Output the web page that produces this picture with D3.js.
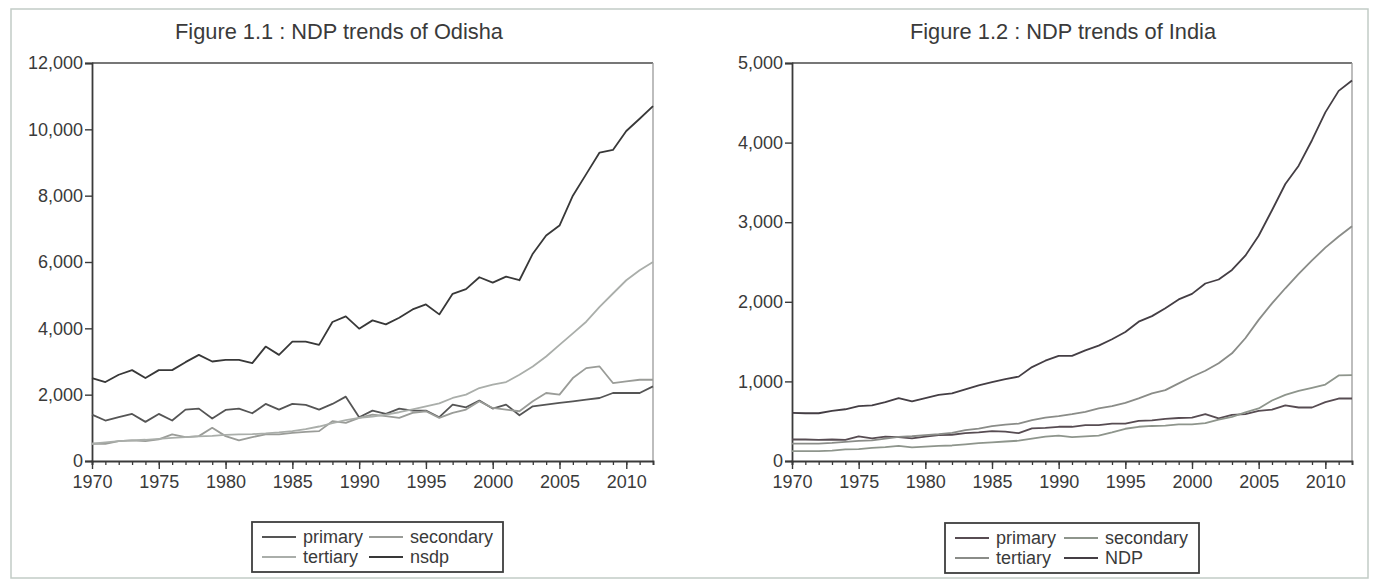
<!DOCTYPE html>
<html>
<head>
<meta charset="utf-8">
<script src="https://cdn.jsdelivr.net/npm/d3@7"></script>
<style>
  html, body { margin: 0; padding: 0; background: #ffffff; }
  svg { display: block; }
  text { font-family: "Liberation Sans", Arial, sans-serif; fill: #3a3a3a; }
</style>
</head>
<body>
<svg id="chart" width="1373" height="583"></svg>
<script>
// Years 1970 .. 2012
const years = [1970,1971,1972,1973,1974,1975,1976,1977,1978,1979,
               1980,1981,1982,1983,1984,1985,1986,1987,1988,1989,
               1990,1991,1992,1993,1994,1995,1996,1997,1998,1999,
               2000,2001,2002,2003,2004,2005,2006,2007,2008,2009,
               2010,2011,2012];
const yearTicks = [1970,1975,1980,1985,1990,1995,2000,2005,2010];

// Odisha net state domestic product by sector
const odishaPrimary = [1400,1220,1320,1420,1180,1420,1220,1550,1580,1280,
                       1540,1580,1440,1720,1550,1720,1690,1550,1720,1940,
                       1320,1520,1420,1580,1520,1520,1320,1700,1620,1820,
                       1580,1700,1380,1650,1700,1750,1800,1850,1900,2050,
                       2050,2050,2250];
const odishaSecondary = [520,520,600,620,600,650,800,720,750,1000,
                         750,620,720,800,800,850,880,900,1200,1150,
                         1300,1400,1350,1300,1450,1500,1300,1450,1550,1800,
                         1600,1550,1500,1800,2050,2000,2500,2800,2850,2350,
                         2400,2450,2450];
const odishaTertiary = [520,560,600,620,640,670,700,720,740,760,
                        790,800,810,830,860,900,960,1040,1140,1230,
                        1300,1340,1400,1470,1560,1650,1740,1900,2000,2200,
                        2300,2380,2600,2850,3150,3500,3850,4200,4650,5050,
                        5450,5750,6000];
const odishaNsdp = [2500,2380,2600,2740,2500,2740,2740,2980,3200,3000,
                    3050,3050,2950,3450,3200,3600,3600,3500,4190,4360,
                    3990,4240,4120,4320,4570,4720,4420,5040,5180,5540,
                    5380,5560,5450,6250,6800,7100,8000,8650,9300,9380,
                    9950,10320,10700];
const odishaTicks = [0,2000,4000,6000,8000,10000,12000];

// India net domestic product by sector
const indiaPrimary = [270,270,265,270,265,310,285,305,300,285,
                      305,325,330,350,360,375,370,350,410,415,
                      430,430,450,450,470,470,505,510,530,540,
                      545,590,535,580,590,630,645,700,672,672,
                      740,785,785];
const indiaSecondary = [125,125,125,130,145,150,165,175,190,170,
                        180,190,195,210,225,235,245,255,280,305,
                        320,300,310,320,360,405,430,440,445,460,
                        460,475,520,555,610,660,760,830,880,920,
                        960,1075,1080];
const indiaTertiary = [218,218,218,227,240,252,260,282,302,311,
                       324,336,353,387,408,437,458,470,513,546,
                       563,588,618,660,689,731,786,849,890,975,
                       1059,1134,1227,1353,1542,1773,1980,2170,2350,2520,
                       2680,2820,2950];
const indiaNdp = [605,600,600,630,650,690,700,740,790,750,
                  790,830,850,900,950,990,1030,1060,1180,1260,
                  1320,1320,1390,1450,1530,1620,1750,1820,1920,2030,
                  2100,2230,2280,2400,2580,2830,3150,3480,3710,4030,
                  4380,4650,4780];
const indiaTicks = [0,1000,2000,3000,4000,5000];

const odishaNames = ["primary","secondary","tertiary","nsdp"];
const indiaNames  = ["primary","secondary","tertiary","NDP"];

const fmt = d3.format(",");
const svg = d3.select("#chart");

// outer frame of the figure
svg.append("rect")
  .attr("x", 11).attr("y", 9).attr("width", 1357).attr("height", 569)
  .attr("fill", "none").attr("stroke", "#c2ccc6").attr("stroke-width", 1.5);

function panel(opts) {
  const { left, right, top, bottom, ymax, yticks, series, names, colors, title, titleX, legend } = opts;
  const g = svg.append("g");

  const x = d3.scaleLinear().domain([1970, 2012]).range([left, right]);
  const y = d3.scaleLinear().domain([0, ymax]).range([bottom, top]);

  // title
  g.append("text")
    .attr("x", titleX).attr("y", 39)
    .attr("text-anchor", "middle")
    .style("font-size", "21.8px")
    .text(title);

  // plot frame: top and right edges
  g.append("line").attr("x1", left).attr("x2", right).attr("y1", top).attr("y2", top)
    .attr("stroke", "#4a4a4a").attr("stroke-width", 1.6);
  g.append("line").attr("x1", right).attr("x2", right).attr("y1", top).attr("y2", bottom)
    .attr("stroke", "#9a9a9a").attr("stroke-width", 1.3);

  // y axis
  const yAxis = g.append("g")
    .attr("transform", `translate(${left},0)`)
    .call(d3.axisLeft(y).tickValues(yticks).tickFormat(fmt).tickSize(7).tickPadding(2));
  yAxis.select(".domain").attr("stroke", "#3a3a3a").attr("stroke-width", 1.8);
  yAxis.selectAll(".tick line").attr("stroke", "#3a3a3a").attr("stroke-width", 1.4);
  yAxis.selectAll(".tick text")
    .style("font-size", "18px").style("font-family", "Liberation Sans, Arial, sans-serif")
    .attr("fill", "#3e3e3e");

  // x axis: minor ticks every year, longer ticks with labels every five years
  const xMinor = g.append("g")
    .attr("transform", `translate(0,${bottom})`)
    .call(d3.axisBottom(x).tickValues(years).tickSize(4).tickFormat(""));
  xMinor.select(".domain").attr("stroke", "#3a3a3a").attr("stroke-width", 1.8);
  xMinor.selectAll(".tick line").attr("stroke", "#3a3a3a").attr("stroke-width", 1.3);

  const xMajor = g.append("g")
    .attr("transform", `translate(0,${bottom})`)
    .call(d3.axisBottom(x).tickValues(yearTicks).tickSize(8).tickPadding(6).tickFormat(d3.format("d")));
  xMajor.select(".domain").remove();
  xMajor.selectAll(".tick line").attr("stroke", "#3a3a3a").attr("stroke-width", 1.4);
  xMajor.selectAll(".tick text")
    .style("font-size", "18px").style("font-family", "Liberation Sans, Arial, sans-serif")
    .attr("fill", "#3e3e3e");

  // series lines
  const line = d3.line().x((d, i) => x(years[i])).y(d => y(d));
  series.forEach((s, k) => {
    g.append("path")
      .datum(s)
      .attr("fill", "none")
      .attr("stroke", colors[k])
      .attr("stroke-width", 1.8)
      .attr("stroke-linejoin", "round")
      .attr("d", line);
  });

  // legend box, two rows of two entries
  const lg = g.append("g");
  lg.append("rect")
    .attr("x", legend.x).attr("y", legend.y).attr("width", legend.w).attr("height", legend.h)
    .attr("fill", "#ffffff").attr("stroke", "#3e3e3e").attr("stroke-width", 1.8);
  const cols = [legend.x + 10, legend.x + legend.col2];
  const rows = [legend.y + 15, legend.y + 35];
  names.forEach((n, k) => {
    const cx = cols[k % 2], cy = rows[Math.floor(k / 2)];
    lg.append("line")
      .attr("x1", cx).attr("x2", cx + 34).attr("y1", cy).attr("y2", cy)
      .attr("stroke", colors[k]).attr("stroke-width", 2);
    lg.append("text")
      .attr("x", cx + 41).attr("y", cy + 6)
      .style("font-size", "18px")
      .text(n);
  });
}

panel({
  left: 92, right: 653, top: 63, bottom: 461,
  ymax: 12000, yticks: odishaTicks,
  series: [odishaPrimary, odishaSecondary, odishaTertiary, odishaNsdp],
  names: odishaNames,
  colors: ["#555555", "#9a9c98", "#aaaeaa", "#383838"],
  title: "Figure 1.1 : NDP trends of Odisha", titleX: 339,
  legend: { x: 252, y: 522, w: 251, h: 50, col2: 117 }
});

panel({
  left: 792, right: 1352, top: 63, bottom: 461,
  ymax: 5000, yticks: indiaTicks,
  series: [indiaPrimary, indiaSecondary, indiaTertiary, indiaNdp],
  names: indiaNames,
  colors: ["#574c52", "#8e958c", "#8a8c88", "#443e44"],
  title: "Figure 1.2 : NDP trends of India", titleX: 1063,
  legend: { x: 945, y: 523, w: 254, h: 50, col2: 119 }
});
</script>
</body>
</html>
